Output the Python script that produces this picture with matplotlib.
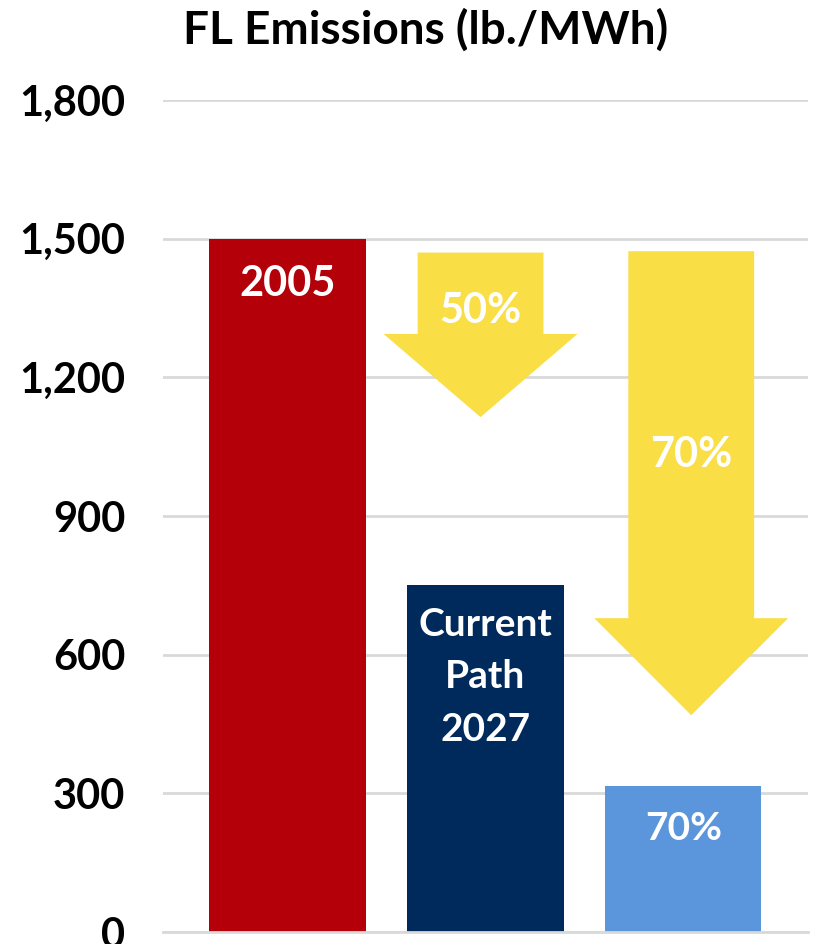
import matplotlib
matplotlib.use("Agg")
import matplotlib.pyplot as plt
from matplotlib.patches import Polygon

# Daten
kategorien = ["2005", "Current\nPath\n2027", "70%"]
werte = [1500, 750, 315]
farben = ["#B40008", "#002A5C", "#5B96DD"]
yticks = [0, 300, 600, 900, 1200, 1500, 1800]

# Pfeile: (Position der Kategorie, Oberkante, Ansatz der Spitze, Spitze, Text)
pfeil_pos = [0.975, 2.04]
pfeil_oben = [1470, 1473]
pfeil_kopf = [1294, 679]
pfeil_spitze = [1114, 469]
pfeil_text = ["50%", "70%"]
pfeil_text_y = [1343, 1032]

gelb = "#FADE46"
plt.rcParams['font.family'] = ['Lato', 'DejaVu Sans']

fig = plt.figure(figsize=(8.13, 9.44), dpi=100)
ax = fig.add_axes([0.2005, 0.0127, 0.7933, 0.8813])

x = range(len(werte))
ax.bar(x, werte, width=0.79, color=farben, zorder=2)

# Beschriftungen in den Balken
ax.text(0, 1402, kategorien[0], ha="center", va="center", color="white",
        fontsize=30, fontweight="bold")
ax.text(1, 552, kategorien[1], ha="center", va="center", color="white",
        fontsize=28, fontweight="bold", linespacing=1.6)
ax.text(2, 225, kategorien[2], ha="center", va="center", color="white",
        fontsize=28, fontweight="bold")

# gelbe Pfeile
for xp, top, kopf, tip, txt, ty in zip(pfeil_pos, pfeil_oben, pfeil_kopf,
                                       pfeil_spitze, pfeil_text, pfeil_text_y):
    sw = 0.318   # halbe Schaftbreite
    hw = 0.49    # halbe Kopfbreite
    pts = [(xp - sw, top), (xp + sw, top), (xp + sw, kopf), (xp + hw, kopf),
           (xp, tip), (xp - hw, kopf), (xp - sw, kopf)]
    ax.add_patch(Polygon(pts, closed=True, facecolor=gelb, edgecolor="none",
                         zorder=3))
    ax.text(xp, ty, txt, ha="center", va="center", color="white",
            fontsize=30, fontweight="bold", zorder=4)

ax.set_xlim(-0.63, 2.63)
ax.set_ylim(0, 1800)
ax.set_yticks(yticks)
ax.set_yticklabels(["{:,}".format(v) for v in yticks], fontsize=30,
                   fontweight="bold")
ax.set_xticks([])
ax.tick_params(axis="y", length=0, pad=27)
ax.yaxis.grid(True, color="#D9D9D9", linewidth=2)
ax.set_axisbelow(True)
for s in ["top", "right", "left"]:
    ax.spines[s].set_visible(False)
ax.spines["bottom"].set_color("#D9D9D9")
ax.spines["bottom"].set_linewidth(2)

fig.text(0.523, 0.968, "FL Emissions (lb./MWh)", ha="center", va="center",
         fontsize=33, fontweight="bold")

fig.savefig("out.png", dpi=100)
